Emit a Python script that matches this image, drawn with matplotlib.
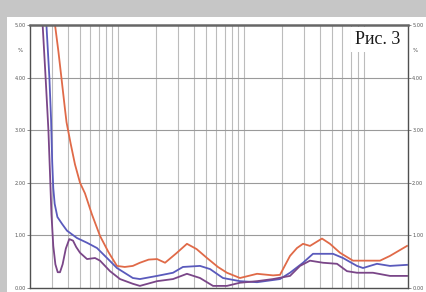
import matplotlib
matplotlib.use("Agg")
import matplotlib.pyplot as plt
from matplotlib.patches import Rectangle

# frequency (Hz) / distortion (%)
orange_f = [29.9, 31.6, 33.6, 35.5, 37.9, 39.0, 42.0, 45.5, 49.9, 54.6, 62.0, 71.9, 84.0, 98.0,
            113, 131, 149, 175, 204, 236, 290, 352, 420, 508, 620, 731, 928, 1268, 1700, 1928,
            2315, 2630, 2936, 3336, 4152, 4806, 5772, 7312, 9980, 12000, 14380, 19640]
orange_v = [5.6, 5.0, 4.5, 4.0, 3.4, 3.15, 2.75, 2.35, 2.0, 1.8, 1.4, 0.99, 0.68, 0.42,
            0.40, 0.42, 0.48, 0.54, 0.55, 0.48, 0.66, 0.84, 0.74, 0.57, 0.40, 0.29, 0.19, 0.27,
            0.24, 0.25, 0.61, 0.76, 0.84, 0.80, 0.94, 0.84, 0.67, 0.52, 0.52, 0.52, 0.61, 0.80]

blue_f = [25.8, 27.0, 28.5, 29.4, 30.0, 30.6, 31.4, 33.0, 35.9, 39.3, 47.2, 56.7, 68.0, 81.7,
          98.0, 131, 149, 204, 273, 327, 447, 537, 680, 928, 1268, 1928, 2315, 2936, 3524,
          5080, 6098, 7870, 8788, 11340, 14380, 19640]
blue_v = [6.0, 5.0, 4.0, 3.2, 2.4, 1.9, 1.6, 1.35, 1.22, 1.09, 0.95, 0.86, 0.76, 0.57,
          0.38, 0.19, 0.17, 0.23, 0.29, 0.40, 0.42, 0.36, 0.19, 0.13, 0.11, 0.17, 0.29, 0.48,
          0.65, 0.65, 0.57, 0.42, 0.38, 0.46, 0.42, 0.44]

purple_f = [24.0, 25.2, 26.6, 28.0, 28.8, 29.6, 30.6, 31.8, 33.2, 34.6, 36.3, 38.5, 41.0, 43.9,
            46.5, 49.9, 56.7, 65.6, 71.9, 86.3, 103.6, 131, 149, 204, 273, 352, 447, 567, 731,
            928, 1268, 1697, 2315, 2780, 3336, 4230, 5466, 6560, 7870, 10540, 14380, 19640]
purple_v = [5.6, 5.0, 4.0, 3.0, 2.2, 1.4, 0.8, 0.45, 0.3, 0.3, 0.45, 0.75, 0.93, 0.90,
            0.78, 0.67, 0.55, 0.57, 0.52, 0.32, 0.17, 0.08, 0.04, 0.13, 0.17, 0.27, 0.19, 0.04,
            0.04, 0.10, 0.13, 0.17, 0.23, 0.42, 0.52, 0.48, 0.46, 0.32, 0.29, 0.29, 0.23, 0.23]

y_ticks = [0, 1, 2, 3, 4, 5]
y_labels = ["0.00", "1.00", "2.00", "3.00", "4.00", "5.00"]
grid_f = [m * 10 ** e for e in (1, 2, 3) for m in range(1, 10)] + [20000]
title = "Рис. 3"

W, H = 427, 292
fig = plt.figure(figsize=(W / 100, H / 100), dpi=100)
fig.patch.set_facecolor("#c6c6c6")
fig.patches.append(Rectangle((7 / W, 0), 1 - 7 / W, 1 - 17 / H, transform=fig.transFigure,
                             facecolor="white", edgecolor="none", zorder=-10))

ax = fig.add_axes([30 / W, (H - 288) / H, 378 / W, 263 / H])
ax.set_xscale("log")
ax.set_xlim(20, 20000)
ax.set_ylim(0, 5)

for f in grid_f:
    if 20 < f < 20000:
        ax.axvline(f, color="#bcbcbc", lw=0.8, zorder=1)
for y in y_ticks[1:-1]:
    ax.axhline(y, color="#9a9a9a", lw=0.8, zorder=1)

ax.plot(orange_f, orange_v, color="#e06a48", lw=1.3, zorder=3, solid_joinstyle="round")
ax.plot(blue_f, blue_v, color="#5a5abc", lw=1.3, zorder=4, solid_joinstyle="round")
ax.plot(purple_f, purple_v, color="#7a4688", lw=1.3, zorder=5, solid_joinstyle="round")

ax.set_xticks([])
ax.set_xticks([], minor=True)
ax.set_yticks(y_ticks)
ax.set_yticklabels(y_labels)
ax.tick_params(axis="y", which="both", labelsize=3.6, labelcolor="#555555", length=2,
               width=0.6, color="#777777", pad=1, right=True, labelright=True)
for s in ax.spines.values():
    s.set_color("#505050")
    s.set_linewidth(1.0)
    s.set_zorder(12)
ax.spines["top"].set_linewidth(1.8)
ax.spines["top"].set_color("#666666")

ax.text(-0.018, 4.52, "%", transform=ax.get_yaxis_transform(), fontsize=4, color="#555555",
        ha="right", va="center")
ax.text(1.012, 4.52, "%", transform=ax.get_yaxis_transform(), fontsize=4, color="#555555",
        ha="left", va="center")

ax.text(0.979, 0.978, title, transform=ax.transAxes, ha="right", va="top",
        fontsize=13, family="Liberation Serif", color="#1a1a1a", zorder=10,
        bbox=dict(facecolor="white", edgecolor="none", pad=3))

fig.savefig("out.png", dpi=100)
